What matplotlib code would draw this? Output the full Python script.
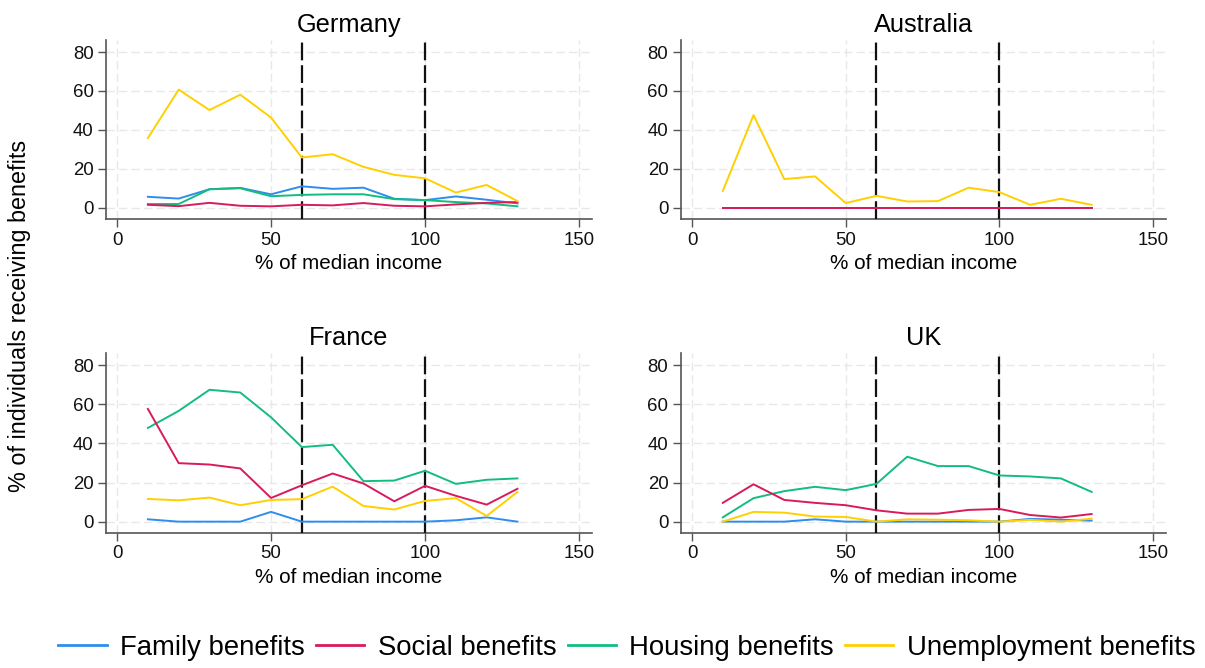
import matplotlib
matplotlib.use("Agg")
import matplotlib.pyplot as plt
from matplotlib.lines import Line2D

plt.rcParams['font.family'] = ['Liberation Sans', 'DejaVu Sans']

income = [10, 20, 30, 40, 50, 60, 70, 80, 90, 100, 110, 120, 130]
countries = ["Germany", "Australia", "France", "UK"]
series_names = ["Family benefits", "Social benefits", "Housing benefits", "Unemployment benefits"]
colors = ["#2E8DEE", "#D81B5A", "#12BD7E", "#FFD000"]
zorders = [4, 6, 5, 7]

germany_family = [5.6, 4.7, 9.5, 10.2, 6.9, 11.0, 9.7, 10.3, 4.6, 3.9, 5.8, 4.1, 2.2]
germany_social = [1.5, 0.8, 2.5, 1.0, 0.7, 1.5, 1.2, 2.4, 1.0, 0.7, 1.7, 2.5, 2.9]
germany_housing = [1.9, 1.9, 9.5, 10.0, 5.9, 6.6, 6.9, 6.9, 4.4, 3.9, 2.9, 2.2, 0.7]
germany_unemp = [35.8, 60.7, 50.2, 58.1, 46.3, 25.8, 27.5, 21.0, 16.9, 15.1, 7.8, 11.7, 3.4]

australia_family = [0, 0, 0, 0, 0, 0, 0, 0, 0, 0, 0, 0, 0]
australia_social = [0, 0, 0, 0, 0, 0, 0, 0, 0, 0, 0, 0, 0]
australia_housing = [0, 0, 0, 0, 0, 0, 0, 0, 0, 0, 0, 0, 0]
australia_unemp = [8.6, 47.6, 14.7, 16.1, 2.4, 6.1, 3.2, 3.4, 10.3, 8.0, 1.5, 4.6, 1.5]

france_family = [1.2, 0, 0, 0, 5.0, 0, 0, 0, 0, 0, 0.7, 2.2, 0]
france_social = [57.6, 29.9, 29.2, 27.2, 12.1, 18.6, 24.6, 19.5, 10.4, 18.3, 13.2, 8.7, 16.8]
france_housing = [47.9, 56.6, 67.4, 66.0, 53.3, 38.1, 39.3, 20.7, 21.0, 26.0, 19.3, 21.4, 22.1]
france_unemp = [11.6, 10.9, 12.3, 8.4, 11.1, 11.5, 17.9, 8.0, 6.2, 10.6, 12.0, 2.9, 15.2]

uk_family = [0, 0, 0, 1.2, 0, 0, 0, 0, 0, 0, 1.4, 1.0, 0.5]
uk_social = [9.6, 19.1, 11.1, 9.6, 8.4, 5.8, 4.1, 4.1, 6.0, 6.5, 3.4, 2.1, 3.9]
uk_housing = [2.2, 12.0, 15.6, 17.8, 16.1, 19.3, 33.2, 28.4, 28.4, 23.6, 23.1, 22.1, 15.2]
uk_unemp = [0, 5.0, 4.6, 2.6, 2.4, 0, 1.2, 1.0, 0.7, 0, 0.9, 0, 1.5]

data = {
    "Germany": [germany_family, germany_social, germany_housing, germany_unemp],
    "Australia": [australia_family, australia_social, australia_housing, australia_unemp],
    "France": [france_family, france_social, france_housing, france_unemp],
    "UK": [uk_family, uk_social, uk_housing, uk_unemp],
}
xticks = [0, 50, 100, 150]
yticks = [0, 20, 40, 60, 80]
thresholds = [60, 100]

W, H = 1205, 668
fig = plt.figure(figsize=(W / 100, H / 100), dpi=100)

# axes rectangles in pixels: (left, top, right, bottom)
boxes = {
    "Germany": (106, 40, 592, 219),
    "Australia": (681, 40, 1166, 219),
    "France": (106, 353, 592, 533),
    "UK": (681, 353, 1166, 533),
}

for c in countries:
    l, t, r, b = boxes[c]
    ax = fig.add_axes([l / W, 1 - b / H, (r - l) / W, (b - t) / H])
    ax.set_xlim(-3.6, 154.2)
    ax.set_ylim(-5.8, 86.2)
    ax.set_xticks(xticks)
    ax.set_yticks(yticks)
    ax.grid(True, color="#E8E8E8", linestyle=(0, (6, 3)), linewidth=1.0)
    ax.set_axisbelow(True)
    for v in thresholds:
        ax.axvline(v, color="#111111", linestyle=(0, (8, 2.2)), linewidth=1.6, zorder=3)
    for vals, col, z in zip(data[c], colors, zorders):
        ax.plot(income, vals, color=col, linewidth=1.4, zorder=z)
    for s in ["top", "right"]:
        ax.spines[s].set_visible(False)
    for s in ["left", "bottom"]:
        ax.spines[s].set_color("#555555")
        ax.spines[s].set_linewidth(1.2)
    ax.tick_params(axis="both", direction="out", length=6, width=1.0,
                   color="#555555", labelsize=13.4, labelcolor="#111111", pad=3)
    ax.set_title(c, fontsize=18.3, pad=6)
    ax.set_xlabel("% of median income", fontsize=14.9, labelpad=4)

fig.text(20 / W, 1 - 316 / H, "% of individuals receiving benefits", rotation=90,
         fontsize=16.8, ha="center", va="center")

handles = [Line2D([0], [0], color=col, linewidth=2) for col in colors]
fig.legend(handles, series_names, loc="center", bbox_to_anchor=(627 / W, 1 - 648 / H),
           ncol=4, frameon=False, fontsize=19.8, handlelength=1.75, handletextpad=0.5,
           columnspacing=0.4)

fig.savefig("out.png", dpi=100, facecolor="white")
